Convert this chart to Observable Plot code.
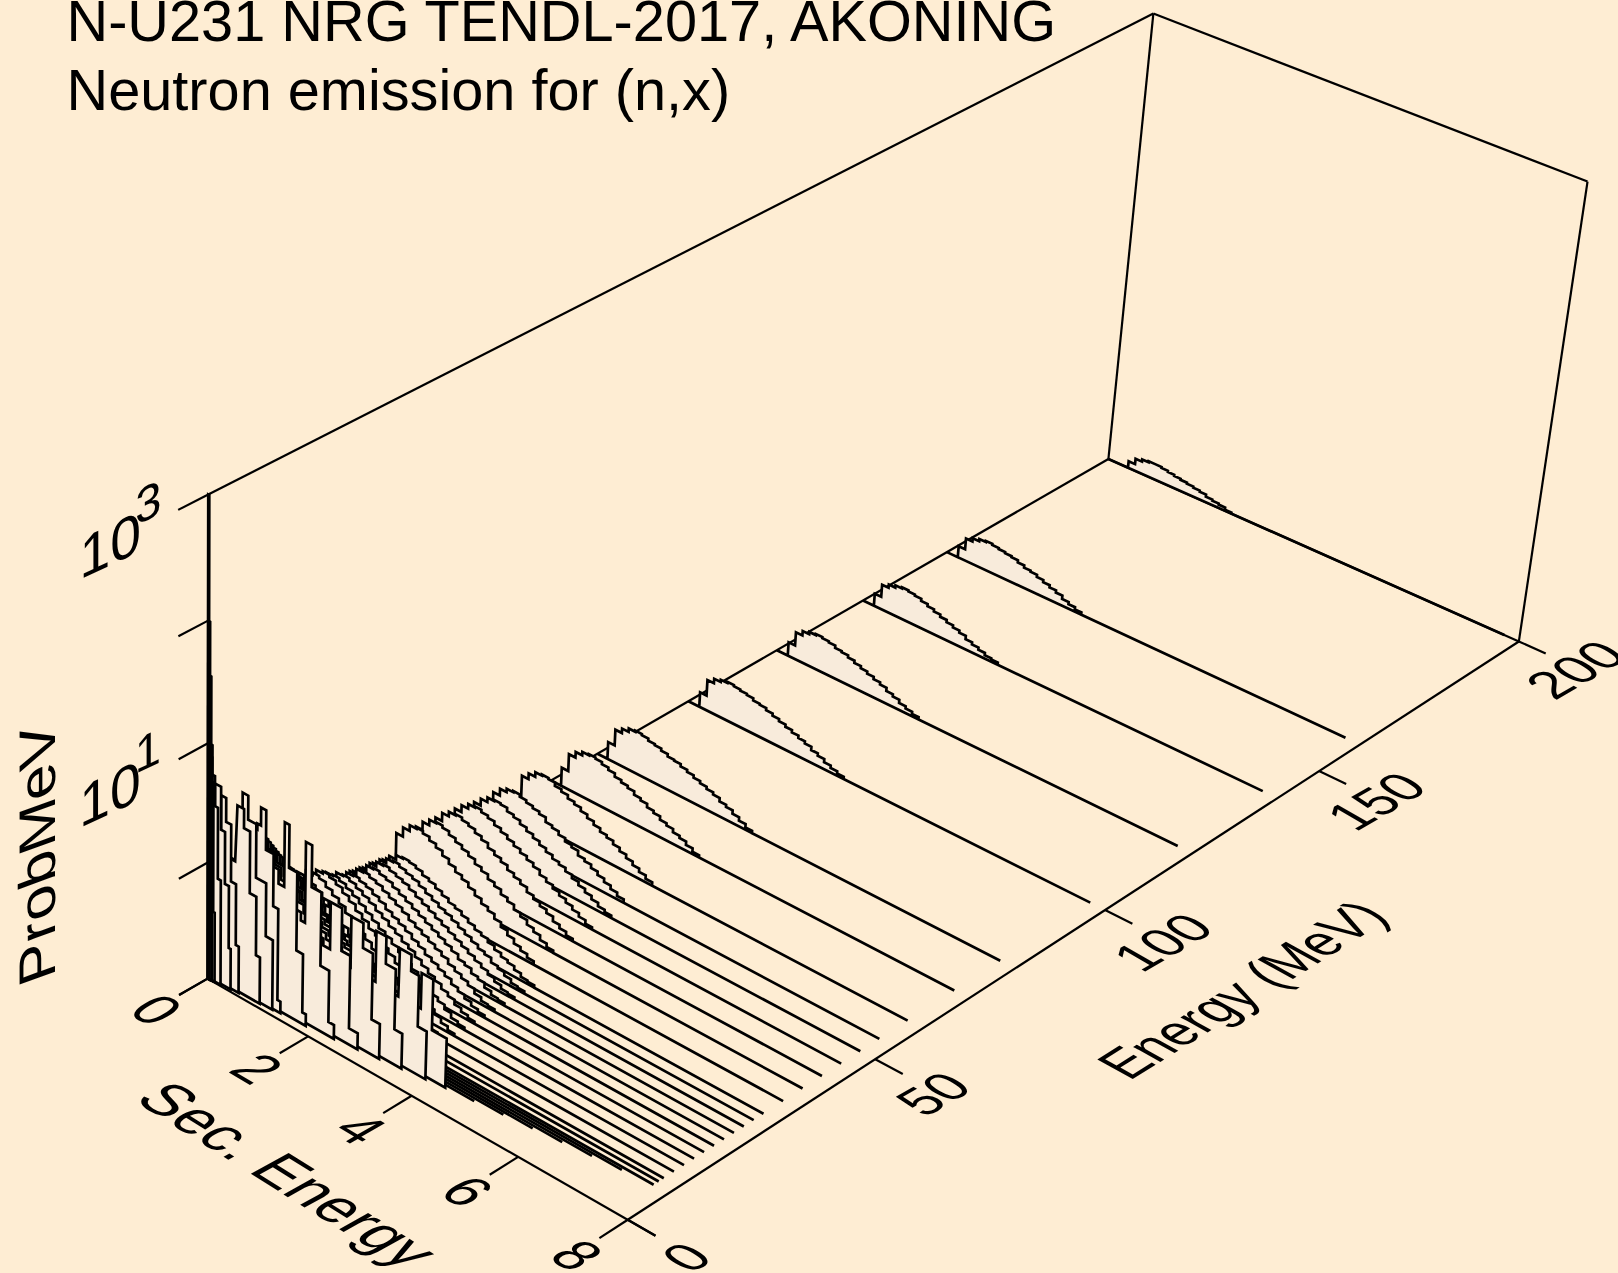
<!DOCTYPE html>
<html><head><meta charset="utf-8">
<script src="https://cdn.jsdelivr.net/npm/d3@7"></script>
<script src="https://cdn.jsdelivr.net/npm/@observablehq/plot@0.6"></script>
<style>html,body{margin:0;padding:0;background:#FEEDD3;overflow:hidden}svg{display:block}</style>
</head><body><div id="chart"></div>
<script>
// ---- values ----
// levels are hundredths of a decade of ProbMeV above the bottom of the log axis (0.1)
const titleLines = ["N-U231 NRG TENDL-2017, AKONING", "Neutron emission for (n,x)"];
const secEnergyTicks = [0, 2, 4, 6, 8];
const energyTicks = [0, 50, 100, 150, 200];
const probTicks = [400, 300, 200, 100, 0];
const probLabels = [{level: 400, exp: "3"}, {level: 200, exp: "1"}];
const BIN = 0.13;

const E200 = [6,11,13,14,14,13,12,11,10,9,8,7,5,4,3,1];
const E160 = [10,20,23,25,26,25,24,23,22,20,18,17,15,13,11,9,6,4,2];
const E140 = [11,22,25,27,28,27,26,24,22,20,18,16,14,12,9,7,5,3,2];
const E120 = [12,24,28,30,31,30,29,27,26,24,22,20,18,16,14,11,9,6,4,2];
const E100 = [13,27,31,33,34,33,32,31,29,28,26,24,22,20,18,16,14,11,9,6,4,2];
const E80 = [15,29,33,36,37,36,34,33,31,29,28,26,24,22,20,18,16,13,11,8,5,2];
const E70 = [16,31,36,39,40,39,37,35,32,30,28,25,23,20,18,15,13,10,8,5,2];
const E60 = [18,36,41,45,46,45,42,40,37,35,32,29,26,23,21,18,15,12,9,6,3];
const E54 = [18,36,42,45,46,44,42,40,38,34,32,29,26,24,20,18,15,12,9,6,3];
const E50 = [19,37,43,47,48,47,44,42,39,36,33,30,27,24,22,19,16,13,10,7,4,2];
const E46 = [21,41,47,51,52,50,48,45,42,39,36,33,30,27,23,20,17,14,11,8,5,2];
const E42 = [22,43,50,54,55,53,51,48,45,41,38,35,31,28,25,21,18,15,12,8,5,2];
const E38 = [23,45,52,57,58,56,53,50,47,44,40,37,33,30,26,23,19,16,12,9,5,2];
const E34 = [25,49,57,62,63,61,58,55,51,47,43,40,36,32,28,25,21,17,13,9,6,3];
const E30 = [20,31,39,45,49,50,49,47,44,42,39,36,33,31,28,25,22,20,17,14,11,9,6,3,2];
const E28 = [21,32,41,47,51,52,50,48,46,43,40,37,34,32,29,26,23,20,17,15,11,9,6,3,2];
const E26 = [22,33,42,49,53,54,52,50,48,45,42,39,36,33,30,27,24,21,18,15,12,9,6,3,2];
const E24 = [22,35,44,50,55,56,54,52,49,46,43,40,37,34,31,28,25,22,18,16,12,10,6,3,2];
const E22 = [23,36,45,52,57,58,56,54,51,48,45,42,38,35,32,29,26,23,19,16,13,10,6,3,2];
const E20 = [24,37,47,54,59,60,58,56,53,50,46,43,40,37,33,30,26,23,20,17,13,10,7,4,2];
const E18 = [26,40,51,59,64,65,63,60,57,54,50,47,43,40,36,33,29,25,21,18,14,11,7,4,2];
const E16 = [28,43,55,63,69,70,68,65,62,58,54,50,46,43,39,35,31,27,23,20,15,12,8,4,2];
const E14 = [31,48,61,70,76,78,76,73,69,65,60,56,51,48,43,39,34,30,26,22,17,13,9,5,2];
const E12 = [33,51,64,74,80,82,80,76,72,68,63,59,54,50,45,41,36,32,27,23,18,14,9,5,2];
const E10 = [34,53,66,77,83,85,82,79,75,71,65,61,56,52,47,43,37,33,28,24,19,14,9,5,3];
const E9 = [36,56,70,81,88,90,87,84,79,75,69,65,59,55,50,45,40,35,30,25,20,15,10,5,3];
const E8 = [38,58,73,85,92,94,91,87,83,78,72,68,62,57,52,47,41,37,31,26,21,16,10,6,3];
const E7p5 = [39,60,76,87,95,97,94,90,85,81,75,70,64,59,53,49,43,38,32,27,21,16,11,6,3];
const E7 = [40,62,78,90,98,100,97,93,88,83,77,72,66,61,55,50,44,39,33,28,22,17,11,6,3];
const E6p5 = [41,63,80,92,100,102,99,95,90,85,79,73,67,62,56,51,45,40,34,29,22,17,11,6,3];
const E6 = [42,65,81,94,102,104,101,97,92,86,80,75,69,63,57,52,46,41,34,29,23,18,11,6,3];
const E5p5 = [43,67,84,97,106,108,105,100,95,90,83,78,71,66,59,54,48,42,36,30,24,18,12,6,3];
const E5 = [45,70,88,102,111,113,110,105,99,94,87,81,75,69,62,57,50,44,37,32,25,19,12,7,3];
const E4p5 = [47,73,92,106,116,118,115,111,106,101,96,92,88,84,80,77,74,71,68,66,64,62,60,58,57,56,55];
const E4 = [48,75,94,108,118,122,119,114,108,102,96,91,87,83,79,76,73,70,67,65,63,61,59,57];
const E3p5 = [50,78,97,112,122,126,122,116,109,102,96,91,86,82,78,74,71,68,65,63,61];
const E3 = [52,80,100,116,126,130,125,118,110,103,97,91,86,81,76,72,68,64];
const E2p5 = [54,84,104,120,130,134,128,120,112,104,97,90,84,78,72];
const E2 = [56,86,108,124,134,138,130,120,110,100,92,85];
const E1p5 = [58,90,112,128,140,144,132,120,108];
const E1p2 = [60,92,115,132,145,150];
const E1 = [70,110,130];
const E0p8 = [80,110];

// incident energy, first bin edge, far end of the floor line, smooth part
const incidentE = [200,160,140,120,100,80,70,60,54,50,46,42,38,34,30,28,26,24,22,20,18,16,14,12,10,9,8,7.5,7,6.5,6,5.5,5,4.5,4,3.5,3,2.5,2,1.5,1.2,1,0.8,0.6,0.4,0.2,0.1,0.05,0.001,0.00001];
const firstBinEs = [0.4,0.22,0.22,0.22,0.22];
const baseEndEs = {7.5:7.2, 7:6.7, 6.5:6.2, 6:5.7, 5.5:5.2, 5:4.7};
const smoothLevels = [E200,E160,E140,E120,E100,E80,E70,E60,E54,E50,E46,E42,E38,E34,E30,E28,E26,E24,E22,E20,E18,E16,E14,E12,E10,E9,E8,E7p5,E7,E6p5,E6,E5p5,E5,E4p5,E4,E3p5,E3,E2p5,E2,E1p5,E1p2,E1,E0p8,[],[],[],[],[],[],[]];
// narrow outgoing-energy bins at the top end of the low-energy spectra
const tailEs = {
  4.5:[3.7,3.92,4.2], 4:[3.33,3.55,3.7,3.87], 3.5:[2.93,3.12,3.31,3.46], 3:[2.5,2.73,2.92,3.08],
  2.5:[2.15,2.37,2.54,2.71], 2:[1.71,1.83,2.02,2.19,2.3], 1.5:[1.35,1.44,1.6,1.73,1.8],
  1.2:[0.92,1.02,1.17,1.27,1.33], 1:[0.58,0.69,0.85,1.05,1.19], 0.8:[0.5,0.63,0.75,0.88,0.96],
  0.6:[0.2,0.3,0.4,0.5,0.56], 0.4:[0.1,0.22,0.3,0.38,0.42], 0.2:[0.05,0.12,0.18,0.24],
  0.1:[0.03,0.08,0.1,0.13], 0.05:[0.02,0.06,0.08], 0.001:[0.01,0.04], 0.00001:[0,0.02]
};
const tailLevels = {
  4.5:[85,42], 4:[98,84,41], 3.5:[104,81,30], 3:[107,86,30],
  2.5:[112,76,14], 2:[153,118,56,12], 1.5:[162,126,60,10],
  1.2:[165,132,88,10], 1:[170,150,105,60], 0.8:[158,142,90,40],
  0.6:[160,140,92,40], 0.4:[168,132,88,35], 0.2:[175,150,90],
  0.1:[200,170,60], 0.05:[256,190], 0.001:[300], 0.00001:[400]
};

// ---- view calibration: where known box positions sit on the page ----
const calib = [
 [0,0,0,207.5,978],[1,0,0,627,1219],[1,1,0,1517,640],[0,1,0,1108,459],
 [0,0,1,208,494],[0,1,1,1152.6,12.4],[1,1,1,1587,181.6],
 [0,0,.25,207.5,863],[0,0,.5,207.5,743],[0,0,.75,207.5,620],
 [1,.25,0,875,1059],[1,.5,0,1104,910],[1,.75,0,1321,771],
 [.25,0,0,306.7,1035],[.75,0,0,517.3,1156]
];
function solve(A,b){const n=b.length;const M=A.map((r,i)=>[...r,b[i]]);
  for(let i=0;i<n;i++){let p=i;for(let r=i+1;r<n;r++)if(Math.abs(M[r][i])>Math.abs(M[p][i]))p=r;
    [M[i],M[p]]=[M[p],M[i]];
    for(let r=0;r<n;r++){if(r===i)continue;const f=M[r][i]/M[i][i];for(let c=i;c<=n;c++)M[r][c]-=f*M[i][c];}}
  return M.map((r,i)=>r[n]/r[i]);}
const rowsA=[],rowsB=[];
for(const [u,v,w,x,y] of calib){
  rowsA.push([u,v,w,1,0,0,0,0,-x*u,-x*v,-x*w]);rowsB.push(x);
  rowsA.push([0,0,0,0,u,v,w,1,-y*u,-y*v,-y*w]);rowsB.push(y);
}
const N=11,ATA=Array.from({length:N},()=>Array(N).fill(0)),ATb=Array(N).fill(0);
rowsA.forEach((r,k)=>{for(let i=0;i<N;i++){ATb[i]+=r[i]*rowsB[k];for(let j=0;j<N;j++)ATA[i][j]+=r[i]*r[j];}});
const H=solve(ATA,ATb);
function view(u,v,w){const d=H[8]*u+H[9]*v+H[10]*w+1;
  return [(H[0]*u+H[1]*v+H[2]*w+H[3])/d,(H[4]*u+H[5]*v+H[6]*w+H[7])/d];}
const uOf=es=>es/8,vOf=e=>e/200,wOf=l=>l/400;

// ---- tidy tables ----
const curves=[];
incidentE.forEach((E,i)=>{
  const start=i<firstBinEs.length?firstBinEs[i]:0.2;
  const lv=smoothLevels[i], tE=tailEs[E], tL=tailLevels[E];
  const end=E>=8?7.73:(baseEndEs[E]!==undefined?baseEndEs[E]:null);
  const pts=[[0,0]];
  let last=null;
  const limit=tE?tE[0]:Infinity;
  lv.forEach((h,k)=>{const lo=start+k*BIN;let hi=lo+BIN;if(lo>=limit)return;if(hi>limit)hi=limit;
    if(k===0)pts.push([lo,0]);pts.push([lo,h],[hi,h]);last=hi;});
  if(tE){tL.forEach((h,k)=>{if(last===null&&k===0)pts.push([tE[0],0]);pts.push([tE[k],h],[tE[k+1],h]);last=tE[k+1];});}
  pts.push([last,0]);
  if(end!==null)pts.push([end,0]);
  pts.push([0,0]);
  pts.forEach(([es,l])=>curves.push({E,es,l,p:view(uOf(es),vOf(E),wOf(l))}));
});
const edges=[
 [[0,0,0],[1.062,0,0]],[[1,0,0],[1,1,0]],[[1,1,0],[0,1,0]],[[0,1,0],[0,0,0]],
 [[0,0,0],[0,0,1]],[[0,0,1],[0,1,1]],[[0,1,1],[1,1,1]],[[1,1,1],[1,1,0]],[[0,1,0],[0,1,1]]
].map(([a,b],i)=>({i,a:view(...a),b:view(...b)}));
const TICK=-0.0275;
const tEs=secEnergyTicks.map(t=>({t,a:view(uOf(t),0,0),b:view(uOf(t),TICK,0),c:view(uOf(t),-0.06,0)}));
const tE=energyTicks.map(t=>({t,a:view(1,vOf(t),0),b:view(1.062,vOf(t),0),c:view(1.14,vOf(t),0)}));
const tZ=probTicks.map(t=>({t,a:view(0,0,wOf(t)),b:view(0,TICK,wOf(t))}));
const lZ=probLabels.map(d=>({...d,a:view(0,0,wOf(d.level))}));

const FONT='"Liberation Sans",Arial,sans-serif', INK="#000";
const tickLink=d=>Plot.link(d,{x1:r=>r.a[0],y1:r=>r.a[1],x2:r=>r.b[0],y2:r=>r.b[1],stroke:INK,strokeWidth:2.2});
const plot=Plot.plot({
  width:1618,height:1273,margin:0,
  x:{domain:[0,1618],range:[0,1618],axis:null},
  y:{domain:[0,1273],range:[0,1273],axis:null},
  style:{background:"#FEEDD3",fontFamily:FONT,color:INK,overflow:"hidden"},
  marks:[
    Plot.link(edges,{x1:r=>r.a[0],y1:r=>r.a[1],x2:r=>r.b[0],y2:r=>r.b[1],stroke:INK,strokeWidth:2.2}),
    tickLink(tEs),tickLink(tE),tickLink(tZ),
    Plot.line(curves,{x:d=>d.p[0],y:d=>d.p[1],z:"E",fill:"#F8EBDB",stroke:INK,strokeWidth:2.7,strokeLinejoin:"miter",strokeLinecap:"butt",strokeMiterlimit:4,curve:"linear"}),
    Plot.text(titleLines,{x:()=>66,y:(d,i)=>[22.5,91.5][i],text:d=>d,textAnchor:"start",lineAnchor:"middle",fontSize:57.7,fill:INK}),
    Plot.text(tEs,{x:r=>r.c[0]+10,y:r=>r.c[1]-4,text:r=>String(r.t),fontSize:54,rotate:31,fill:INK}),
    Plot.text(tE,{x:r=>r.c[0]-3,y:r=>r.c[1]+2,text:r=>String(r.t),fontSize:52,rotate:-30,fill:INK}),
    Plot.text(lZ,{x:r=>r.a[0],y:r=>r.a[1],dx:-98,dy:52,text:()=>"10",fontSize:61,rotate:-25,fill:INK}),
    Plot.text(lZ,{x:r=>r.a[0],y:r=>r.a[1],dx:-60,dy:9,text:r=>r.exp,fontSize:52,rotate:-25,fill:INK}),
    Plot.text(["Sec. Energy"],{x:()=>286,y:()=>1175,text:d=>d,fontSize:59,rotate:32,fill:INK}),
    Plot.text(["Energy (MeV)"],{x:()=>1243,y:()=>990,text:d=>d,fontSize:50,rotate:-32,fill:INK}),
    Plot.text(["ProbMeV"],{x:()=>38,y:()=>853,text:d=>d,fontSize:62,rotate:-90,fill:INK})
  ]
});
// glyphs lie in the planes of the box: shear each rotated text to its plane
const shear={"31":" skewX(-29) scale(1,0.95)","32":" skewX(-29) scale(1,0.93)","-30":" skewX(30) scale(1,0.92)","-32":" skewX(29) scale(1,1.03)","-25":" skewX(-25) scale(1,0.87)","-90":" skewX(20) scale(1,0.83)"};
plot.querySelectorAll("text").forEach(t=>{
  const tr=t.getAttribute("transform")||t.parentNode.getAttribute("transform")||"";
  const m=/rotate\((-?\d+)\)/.exec(tr);
  if(m&&shear[m[1]]) t.setAttribute("transform",(t.getAttribute("transform")||"")+shear[m[1]]);
});
document.getElementById("chart").append(plot);
</script></body></html>
